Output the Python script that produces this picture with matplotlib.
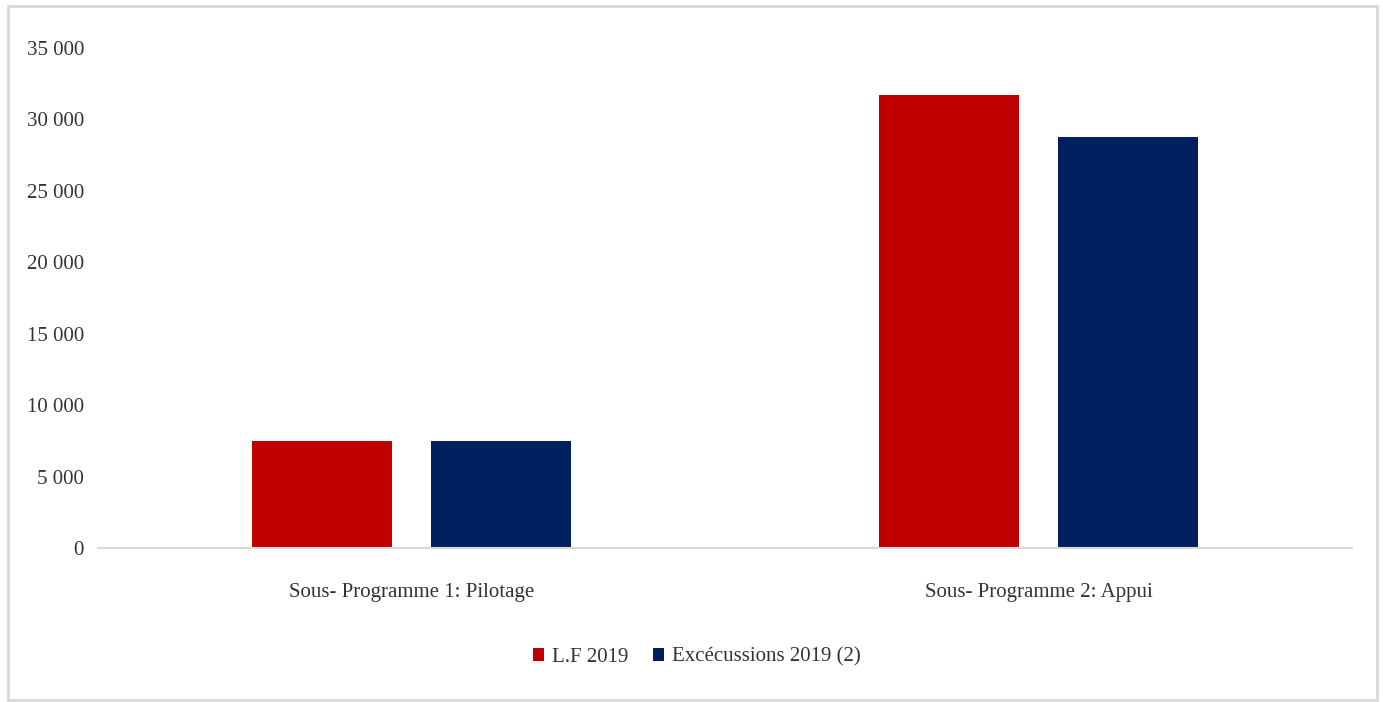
import numpy as np
import matplotlib.pyplot as plt
from matplotlib.patches import Rectangle

categories = ["Sous- Programme 1: Pilotage", "Sous- Programme 2: Appui"]
lf_2019 = [7500, 31700]
executions_2019 = [7500, 28800]
series_names = ["L.F 2019", "Excécussions 2019 (2)"]
yticks = [0, 5000, 10000, 15000, 20000, 25000, 30000, 35000]

plt.rcParams['font.family'] = ['Liberation Serif', 'DejaVu Serif']

fig = plt.figure(figsize=(13.83, 7.02), dpi=100)
fig.patch.set_facecolor('white')

# thin grey frame around the whole chart area
fig.patches.append(Rectangle((8 / 1383, 2 / 702), 1369 / 1383, 694 / 702,
                             transform=fig.transFigure, fill=False,
                             edgecolor='#d9d9d9', linewidth=2))

ax = fig.add_axes([98 / 1383, 1 - 548 / 702, 1254 / 1383, 500 / 702])

x = np.arange(len(categories))
width = 0.223
offset = 0.143
ax.bar(x - offset, lf_2019, width, color='#c00000', label=series_names[0])
ax.bar(x + offset, executions_2019, width, color='#002060', label=series_names[1])

ax.set_xlim(-0.5, 1.5)
ax.set_ylim(0, 35000)
ax.set_yticks(yticks)
ax.set_yticklabels([f"{v:,}".replace(",", " ") for v in yticks])
ax.set_xticks(x)
ax.set_xticklabels(categories)

for side in ['top', 'right', 'left']:
    ax.spines[side].set_visible(False)
ax.spines['bottom'].set_color('#d9d9d9')
ax.spines['bottom'].set_linewidth(1.5)

ax.tick_params(axis='y', length=0, pad=10, labelsize=15, labelcolor='#333333')
ax.tick_params(axis='x', length=0, pad=25, labelsize=15, labelcolor='#333333')

leg = fig.legend(loc='center', bbox_to_anchor=(697 / 1383, 1 - 657 / 702), ncol=2,
                 frameon=False, fontsize=15, handlelength=0.5, handleheight=0.6,
                 handletextpad=0.4, columnspacing=1.2)
for t in leg.get_texts():
    t.set_color('#333333')

fig.savefig('out.png', dpi=100)
